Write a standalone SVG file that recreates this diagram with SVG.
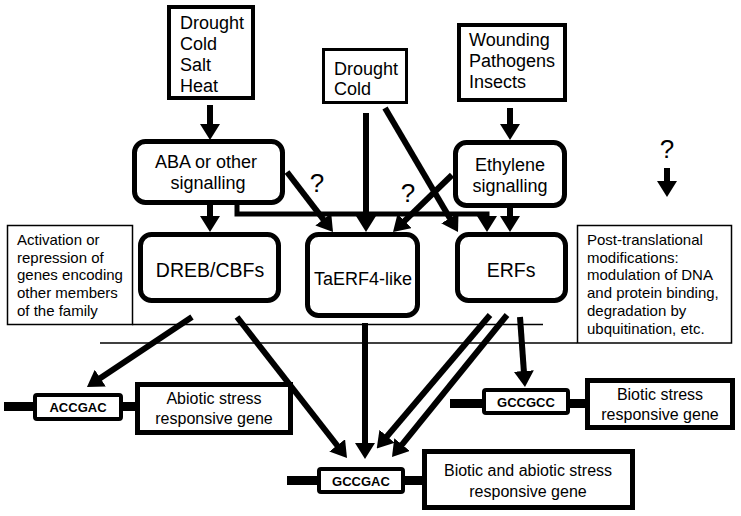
<svg xmlns="http://www.w3.org/2000/svg" width="741" height="516" viewBox="0 0 741 516">
<style>
  text { font-family: "Liberation Sans", Arial, sans-serif; fill: #000; }
  .lbl { font-size: 18px; }
  .lblc { font-size: 18px; text-anchor: middle; }
  .big { font-size: 19.5px; text-anchor: middle; }
  .gene { font-size: 16px; text-anchor: middle; }
  .side { font-size: 15px; }
  .site { font-size: 13px; font-weight: bold; text-anchor: middle; }
  .q { font-size: 26px; text-anchor: middle; }
  .src { fill: #fff; stroke: #000; stroke-width: 4; }
  .node { fill: #fff; stroke: #000; stroke-width: 5; }
  .note { fill: #fff; stroke: #000; stroke-width: 1.5; }
  .sitebox { fill: #fff; stroke: #000; stroke-width: 4; }
  .bar { fill: #000; }
  .arr { fill: none; stroke: #000; stroke-width: 6; marker-end: url(#ah); }
  .conn { fill: none; stroke: #000; stroke-width: 5; marker-end: url(#ah); }
  .thin { fill: none; stroke: #000; stroke-width: 1.5; }
</style>
<defs>
  <marker id="ah" markerUnits="userSpaceOnUse" markerWidth="16" markerHeight="20" viewBox="0 0 16 20" refX="2" refY="10" orient="auto">
    <path d="M0,0 L16,10 L0,20 z" fill="#000"/>
  </marker>
</defs>
<rect width="741" height="516" fill="#fff"/>

<g id="connectors">
  <line class="arr" x1="210" y1="105" x2="210" y2="126"/>
  <line class="arr" x1="510" y1="108" x2="510" y2="126"/>
  <line class="arr" x1="667" y1="168" x2="667" y2="183"/>
  <line class="arr" x1="210" y1="204" x2="210" y2="218"/>
  <line class="arr" x1="510" y1="207" x2="510" y2="218"/>
  <path class="conn" d="M237,204 V214 H487 V218"/>
  <line class="arr" x1="287" y1="172" x2="324.5" y2="220.9"/>
  <line class="arr" x1="366" y1="113" x2="366" y2="218"/>
  <line class="arr" x1="385" y1="108" x2="450.9" y2="219.9"/>
  <line class="arr" x1="452" y1="175" x2="403.1" y2="222.3"/>
  <line class="arr" x1="192" y1="317" x2="98.6" y2="379.2"/>
  <line class="arr" x1="237" y1="317" x2="338.4" y2="447"/>
  <line class="arr" x1="365" y1="323" x2="365" y2="445"/>
  <line class="arr" x1="490" y1="315" x2="385.8" y2="437.8"/>
  <line class="arr" x1="507" y1="315" x2="400.8" y2="446.1"/>
  <line class="arr" x1="520" y1="317" x2="524" y2="373"/>
  <line class="thin" x1="132" y1="324.5" x2="543" y2="324.5"/>
  <line class="thin" x1="100" y1="343" x2="577" y2="343"/>
</g>

<g id="src-abiotic">
  <rect class="src" x="169" y="7" width="84" height="91"/>
  <text class="lbl" x="180" y="29">Drought</text>
  <text class="lbl" x="180" y="50">Cold</text>
  <text class="lbl" x="180" y="71">Salt</text>
  <text class="lbl" x="180" y="92">Heat</text>
</g>
<g id="src-drought-cold">
  <rect class="src" x="323.5" y="49.5" width="83" height="53" style="stroke-width:3"/>
  <text class="lbl" x="334" y="75">Drought</text>
  <text class="lbl" x="334" y="95">Cold</text>
</g>
<g id="src-biotic">
  <rect class="src" x="459" y="25" width="106" height="75"/>
  <text class="lbl" x="469" y="46">Wounding</text>
  <text class="lbl" x="469" y="67">Pathogens</text>
  <text class="lbl" x="469" y="88">Insects</text>
</g>

<g id="aba">
  <rect class="node" x="134.5" y="141.5" width="148" height="61" rx="11"/>
  <text class="lblc" x="206" y="168">ABA or other</text>
  <text class="lblc" x="208" y="189">signalling</text>
</g>
<g id="ethylene">
  <rect class="node" x="455.5" y="142.5" width="109" height="63" rx="11"/>
  <text class="lblc" x="510" y="171">Ethylene</text>
  <text class="lblc" x="510" y="192">signalling</text>
</g>

<g id="q-labels">
  <text class="q" x="317" y="192">?</text>
  <text class="q" x="408" y="202">?</text>
  <text class="q" x="667" y="158">?</text>
</g>

<g id="dreb">
  <rect class="node" x="140.5" y="234.5" width="138" height="66" rx="11"/>
  <text class="big" x="210" y="277">DREB/CBFs</text>
</g>
<g id="taerf4">
  <rect class="node" x="307.5" y="234.5" width="110" height="81" rx="11"/>
  <text class="big" x="363" y="285" style="font-size:18px">TaERF4-like</text>
</g>
<g id="erfs">
  <rect class="node" x="457.5" y="234.5" width="108" height="66" rx="11"/>
  <text class="big" x="511" y="277">ERFs</text>
</g>

<g id="note-left">
  <rect class="note" x="7.5" y="225.5" width="125" height="99"/>
  <text class="side" x="17" y="245">Activation or</text>
  <text class="side" x="17" y="263">repression of</text>
  <text class="side" x="17" y="280">genes encoding</text>
  <text class="side" x="17" y="298">other members</text>
  <text class="side" x="17" y="316">of the family</text>
</g>
<g id="note-right">
  <rect class="note" x="577.5" y="225.5" width="154" height="117.5"/>
  <text class="side" x="587" y="245">Post-translational</text>
  <text class="side" x="587" y="263">modifications:</text>
  <text class="side" x="587" y="280">modulation of DNA</text>
  <text class="side" x="587" y="298">and protein binding,</text>
  <text class="side" x="587" y="316">degradation by</text>
  <text class="side" x="587" y="334">ubquitination, etc.</text>
</g>

<g id="gene-abiotic">
  <rect class="bar" x="4" y="402" width="30" height="9"/>
  <rect class="sitebox" x="35" y="395" width="86" height="24" rx="2"/>
  <text class="site" x="78" y="412">ACCGAC</text>
  <rect class="bar" x="123" y="402" width="14" height="9"/>
  <rect class="node" x="137.5" y="384.5" width="153" height="48"/>
  <text class="gene" x="214" y="404">Abiotic stress</text>
  <text class="gene" x="214" y="424">responsive gene</text>
</g>
<g id="gene-biotic">
  <rect class="bar" x="450" y="399" width="32" height="9"/>
  <rect class="sitebox" x="484" y="390" width="84" height="23" rx="2"/>
  <text class="site" x="526" y="407">GCCGCC</text>
  <rect class="bar" x="570" y="399" width="17" height="9"/>
  <rect class="node" x="587.5" y="380.5" width="145" height="47"/>
  <text class="gene" x="660" y="400">Biotic stress</text>
  <text class="gene" x="660" y="420">responsive gene</text>
</g>
<g id="gene-both">
  <rect class="bar" x="287" y="476" width="30" height="9"/>
  <rect class="sitebox" x="319" y="469" width="84" height="23" rx="2"/>
  <text class="site" x="361" y="486">GCCGAC</text>
  <rect class="bar" x="405" y="476" width="19" height="9"/>
  <rect class="node" x="424.5" y="451.5" width="208" height="56"/>
  <text class="gene" x="528" y="476">Biotic and abiotic stress</text>
  <text class="gene" x="528" y="497">responsive gene</text>
</g>
</svg>
